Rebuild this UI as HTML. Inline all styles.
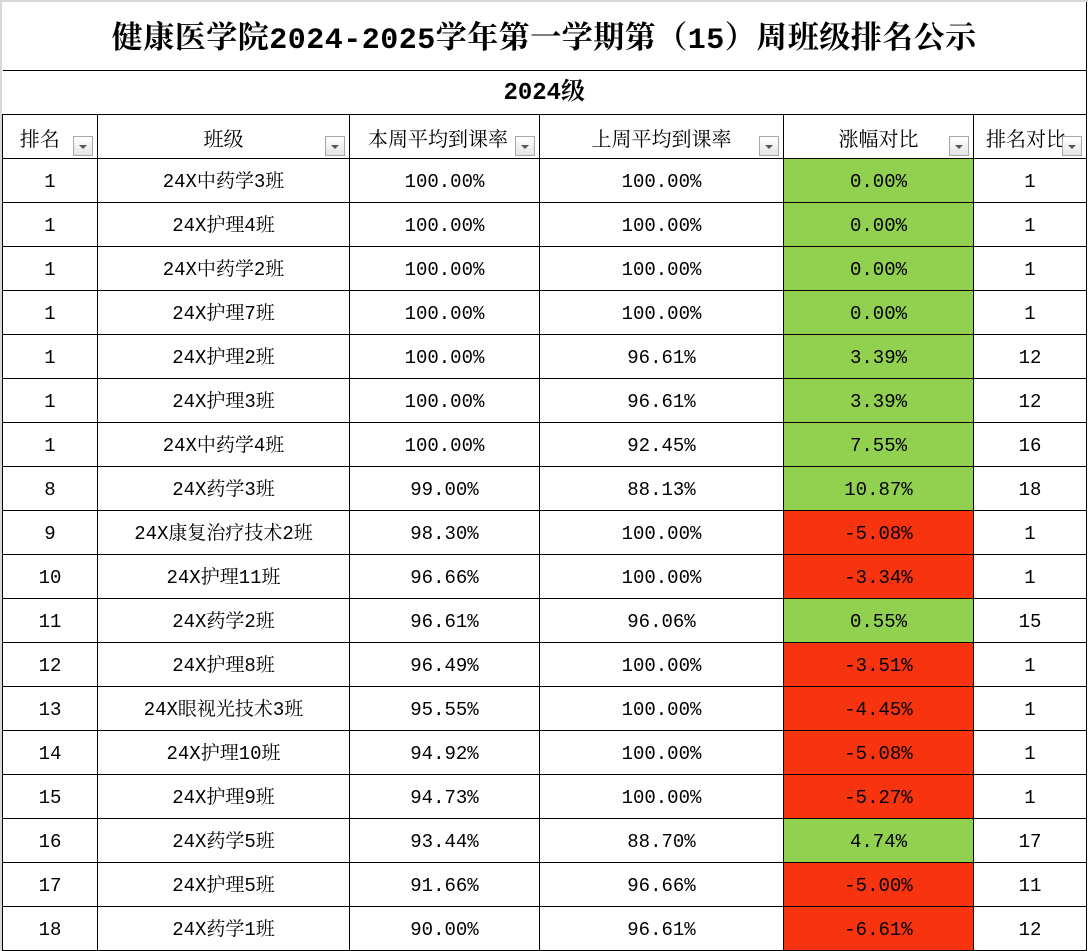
<!DOCTYPE html>
<html><head><meta charset="utf-8"><style>
body{margin:0;width:1088px;height:951px;overflow:hidden;background:#fff;font-family:"Liberation Mono","Noto Serif CJK SC",monospace;color:#000}
.w{position:relative;width:1088px;height:951px;border-top:2px solid #d8d8d8;border-left:2px solid #d8d8d8;box-sizing:border-box}
table{position:absolute;left:0;top:0;border-collapse:collapse;table-layout:fixed}
td{border:1.5px solid #000;text-align:center;padding:0;padding-top:3px;height:40px;line-height:22px;font-size:19px;white-space:nowrap;overflow:hidden;position:relative}
.t{height:65px;line-height:40px;font-size:31px;font-weight:bold;border-top:none;border-left:none;font-family:"Noto Serif CJK SC",serif;letter-spacing:0.5px}
.t span{font-family:"Liberation Mono",monospace;font-size:30px}
.s{height:40px;line-height:30px;font-size:24px;font-weight:bold;border-left:none}
.g{background:#92d050}.r{background:#f83410}
.h td{font-size:20px;font-family:"Noto Serif CJK SC",serif}
.b{position:absolute;right:4px;bottom:2px;width:20px;height:20px;border:1px solid #a8a8a8;background:linear-gradient(#fff,#e4e4e4);box-sizing:border-box}
.b:after{content:"";position:absolute;left:5px;top:8px;border-left:4px solid transparent;border-right:4px solid transparent;border-top:4px solid #555}
</style></head><body><div class="w"><table>
<colgroup><col style="width:95px"><col style="width:252px"><col style="width:190px"><col style="width:244px"><col style="width:190px"><col style="width:113px"></colgroup>
<tr><td class="t" colspan="6">健康医学院<span>2024-2025</span>学年第一学期第（<span>15</span>）周班级排名公示</td></tr>
<tr><td class="s" colspan="6">2024级</td></tr>
<tr class="h"><td>排名&nbsp;&nbsp;&nbsp;&nbsp;<span class="b"></span></td><td>班级<span class="b"></span></td><td style="text-align:left;padding-left:18px">本周平均到课率<span class="b"></span></td><td>上周平均到课率<span class="b"></span></td><td>涨幅对比<span class="b"></span></td><td style="text-align:left;padding-left:12px">排名对比<span class="b"></span></td></tr>
<tr><td>1</td><td>24X中药学3班</td><td>100.00%</td><td>100.00%</td><td class="g">0.00%</td><td>1</td></tr>
<tr><td>1</td><td>24X护理4班</td><td>100.00%</td><td>100.00%</td><td class="g">0.00%</td><td>1</td></tr>
<tr><td>1</td><td>24X中药学2班</td><td>100.00%</td><td>100.00%</td><td class="g">0.00%</td><td>1</td></tr>
<tr><td>1</td><td>24X护理7班</td><td>100.00%</td><td>100.00%</td><td class="g">0.00%</td><td>1</td></tr>
<tr><td>1</td><td>24X护理2班</td><td>100.00%</td><td>96.61%</td><td class="g">3.39%</td><td>12</td></tr>
<tr><td>1</td><td>24X护理3班</td><td>100.00%</td><td>96.61%</td><td class="g">3.39%</td><td>12</td></tr>
<tr><td>1</td><td>24X中药学4班</td><td>100.00%</td><td>92.45%</td><td class="g">7.55%</td><td>16</td></tr>
<tr><td>8</td><td>24X药学3班</td><td>99.00%</td><td>88.13%</td><td class="g">10.87%</td><td>18</td></tr>
<tr><td>9</td><td>24X康复治疗技术2班</td><td>98.30%</td><td>100.00%</td><td class="r">-5.08%</td><td>1</td></tr>
<tr><td>10</td><td>24X护理11班</td><td>96.66%</td><td>100.00%</td><td class="r">-3.34%</td><td>1</td></tr>
<tr><td>11</td><td>24X药学2班</td><td>96.61%</td><td>96.06%</td><td class="g">0.55%</td><td>15</td></tr>
<tr><td>12</td><td>24X护理8班</td><td>96.49%</td><td>100.00%</td><td class="r">-3.51%</td><td>1</td></tr>
<tr><td>13</td><td>24X眼视光技术3班</td><td>95.55%</td><td>100.00%</td><td class="r">-4.45%</td><td>1</td></tr>
<tr><td>14</td><td>24X护理10班</td><td>94.92%</td><td>100.00%</td><td class="r">-5.08%</td><td>1</td></tr>
<tr><td>15</td><td>24X护理9班</td><td>94.73%</td><td>100.00%</td><td class="r">-5.27%</td><td>1</td></tr>
<tr><td>16</td><td>24X药学5班</td><td>93.44%</td><td>88.70%</td><td class="g">4.74%</td><td>17</td></tr>
<tr><td>17</td><td>24X护理5班</td><td>91.66%</td><td>96.66%</td><td class="r">-5.00%</td><td>11</td></tr>
<tr><td>18</td><td>24X药学1班</td><td>90.00%</td><td>96.61%</td><td class="r">-6.61%</td><td>12</td></tr>
</table></div></body></html>
